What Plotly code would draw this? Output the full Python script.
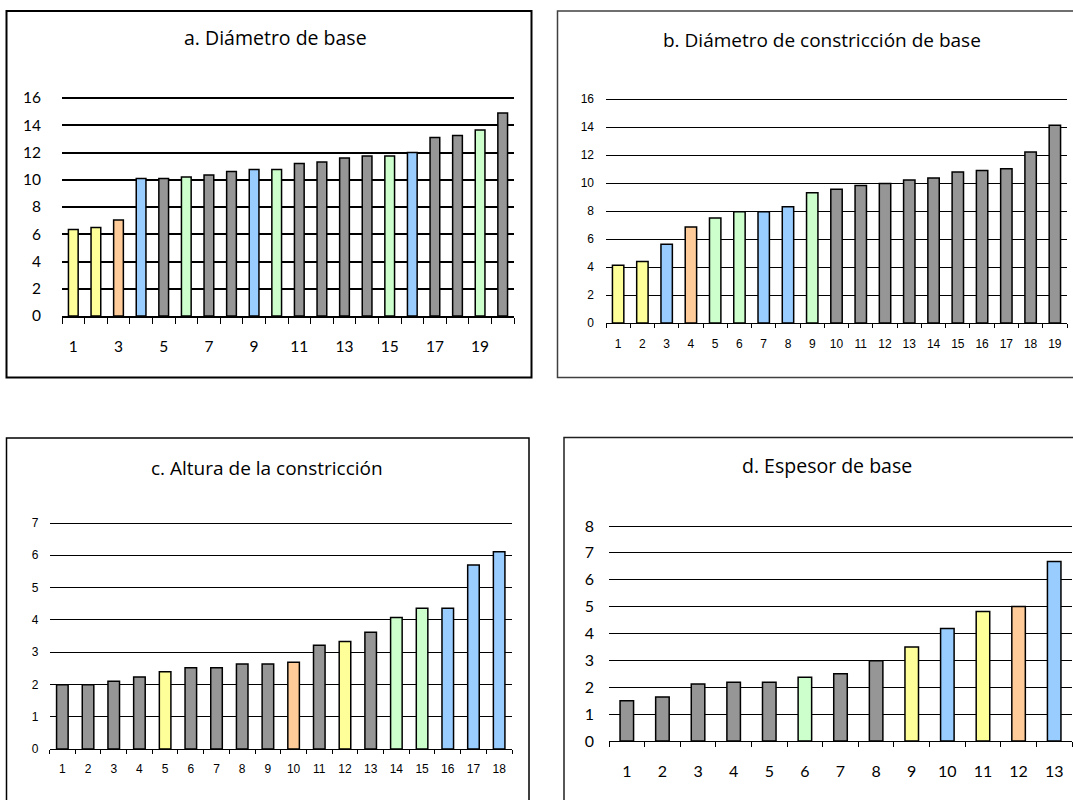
import plotly.graph_objects as go

# ---------------- data ----------------
GRAY = "#969696"
YEL = "#FFFF99"
ORA = "#FFCC99"
BLU = "#99CCFF"
GRN = "#CCFFCC"

a_title = "a. Diámetro de base"
a_cats = list(range(1, 21))
a_vals = [6.35, 6.5, 7.05, 10.1, 10.1, 10.2, 10.35, 10.6, 10.75, 10.75,
          11.2, 11.3, 11.6, 11.75, 11.75, 12.0, 13.1, 13.25, 13.65, 14.9]
a_cols = [YEL, YEL, ORA, BLU, GRAY, GRN, GRAY, GRAY, BLU, GRN,
          GRAY, GRAY, GRAY, GRAY, GRN, BLU, GRAY, GRAY, GRN, GRAY]
a_ticks = [1, 3, 5, 7, 9, 11, 13, 15, 17, 19]

b_title = "b. Diámetro de constricción de base"
b_cats = list(range(1, 20))
b_vals = [4.13, 4.4, 5.62, 6.85, 7.5, 7.95, 7.95, 8.3, 9.3, 9.55,
          9.82, 9.96, 10.22, 10.35, 10.78, 10.9, 11.02, 12.22, 14.12]
b_cols = [YEL, YEL, BLU, ORA, GRN, GRN, BLU, BLU, GRN, GRAY,
          GRAY, GRAY, GRAY, GRAY, GRAY, GRAY, GRAY, GRAY, GRAY]

c_title = "c. Altura de la constricción"
c_cats = list(range(1, 19))
c_vals = [1.99, 1.99, 2.1, 2.23, 2.39, 2.52, 2.52, 2.63, 2.63, 2.69,
          3.21, 3.33, 3.62, 4.07, 4.36, 4.36, 5.7, 6.11]
c_cols = [GRAY, GRAY, GRAY, GRAY, YEL, GRAY, GRAY, GRAY, GRAY, ORA,
          GRAY, YEL, GRAY, GRN, GRN, BLU, BLU, BLU]

d_title = "d. Espesor de base"
d_cats = list(range(1, 14))
d_vals = [1.5, 1.64, 2.12, 2.19, 2.19, 2.37, 2.5, 2.99, 3.5, 4.19,
          4.82, 5.0, 6.68]
d_cols = [GRAY, GRAY, GRAY, GRAY, GRAY, GRN, GRAY, GRAY, YEL, BLU,
          YEL, ORA, BLU]

W, H = 1073, 800
CAL = "Lato, 'Open Sans', sans-serif"
TIT = "'Open Sans', Lato, sans-serif"
ARI = "'Liberation Sans', Arial, sans-serif"
EXT = 3  # extra pixels above the top gridline so it is not clipped


def px(x):
    return x / W


def py(y):
    return 1 - y / H


fig = go.Figure()

panels = [
    dict(cats=a_cats, vals=a_vals, cols=a_cols, ymax=16, dtick=2, xd=(62, 514), yd=(98, 316),
         tv=a_ticks, font=CAL, fs=15.5, gap=0.57, sx=15, sy=20, gw=1.6, lw=2, tl=6),
    dict(cats=b_cats, vals=b_vals, cols=b_cols, ymax=16, dtick=2, xd=(606, 1067), yd=(99, 323),
         tv=b_cats, font=ARI, fs=12, gap=0.53, sx=10, sy=11, gw=1, lw=1, tl=4),
    dict(cats=c_cats, vals=c_vals, cols=c_cols, ymax=7, dtick=1, xd=(49.5, 512), yd=(523, 749),
         tv=c_cats, font=ARI, fs=12, gap=0.55, sx=9, sy=10, gw=1, lw=1, tl=4),
    dict(cats=d_cats, vals=d_vals, cols=d_cols, ymax=8, dtick=1, xd=(609, 1072), yd=(526, 741),
         tv=d_cats, font=CAL, fs=16, gap=0.62, sx=16, sy=14, gw=1, lw=1, tl=5),
]

layout = dict(
    width=W, height=H, margin=dict(l=0, r=0, t=0, b=0, pad=0, autoexpand=False),
    paper_bgcolor="white", plot_bgcolor="white", showlegend=False,
)

for i, p in enumerate(panels):
    n = i + 1
    xa = "x" if n == 1 else f"x{n}"
    ya = "y" if n == 1 else f"y{n}"
    fig.add_trace(go.Bar(
        x=p["cats"], y=p["vals"], xaxis=xa, yaxis=ya,
        marker=dict(color=p["cols"], line=dict(color="black", width=1.5)),
        width=1 - p["gap"], hoverinfo="x+y",
    ))
    N = len(p["cats"])
    top, bot = p["yd"]
    unit = (bot - top) / p["ymax"]
    ytop_val = p["ymax"] + EXT / unit
    layout["xaxis" if n == 1 else f"xaxis{n}"] = dict(
        domain=[px(p["xd"][0]), px(p["xd"][1])], anchor=ya, automargin=False,
        range=[0.5, N + 0.5], tickmode="array", tickvals=p["tv"],
        ticktext=[str(v) for v in p["tv"]], ticks="", showgrid=False,
        showline=True, linecolor="black", linewidth=p["lw"], zeroline=False,
        tickfont=dict(family=p["font"], size=p["fs"], color="black"),
        ticklabelstandoff=p["sx"],
        minor=dict(tickmode="linear", tick0=0.5, dtick=1, ticks="outside",
                   ticklen=p["tl"], tickwidth=1, tickcolor="black", showgrid=False),
        fixedrange=True,
    )
    layout["yaxis" if n == 1 else f"yaxis{n}"] = dict(
        domain=[py(bot), py(top - EXT)], anchor=xa, automargin=False,
        range=[0, ytop_val], dtick=p["dtick"], tick0=0,
        showgrid=True, gridcolor="black", gridwidth=p["gw"],
        zeroline=False, showline=False, ticks="",
        tickfont=dict(family=p["font"], size=p["fs"], color="black"),
        ticklabelstandoff=p["sy"], fixedrange=True,
    )

fig.update_layout(**layout)

# panel frames
frames = [
    (6.5, 11, 531.5, 377.5, "black", 2),
    (557.5, 11, 1080, 377.5, "#404040", 1.5),
    (6.5, 438, 529, 810, "black", 1.5),
    (564, 437.5, 1080, 810, "#202020", 1.5),
]
for x0, y0, x1, y1, c, w in frames:
    fig.add_shape(type="rect", xref="paper", yref="paper",
                  x0=px(x0), x1=px(x1), y0=py(y1), y1=py(y0),
                  line=dict(color=c, width=w), fillcolor="rgba(0,0,0,0)", layer="above")

# titles
titles = [
    (a_title, 275, 37, 19.5),
    (b_title, 822, 40, 19),
    (c_title, 267, 468, 19),
    (d_title, 827, 465, 19.5),
]
for t, x, y, s in titles:
    fig.add_annotation(text=t, xref="paper", yref="paper", x=px(x), y=py(y),
                       xanchor="center", yanchor="middle", showarrow=False,
                       font=dict(family=TIT, size=s, color="black"))

fig.write_html("out.html", config={"displayModeBar": False},
               post_script="document.body.style.margin='0';")
